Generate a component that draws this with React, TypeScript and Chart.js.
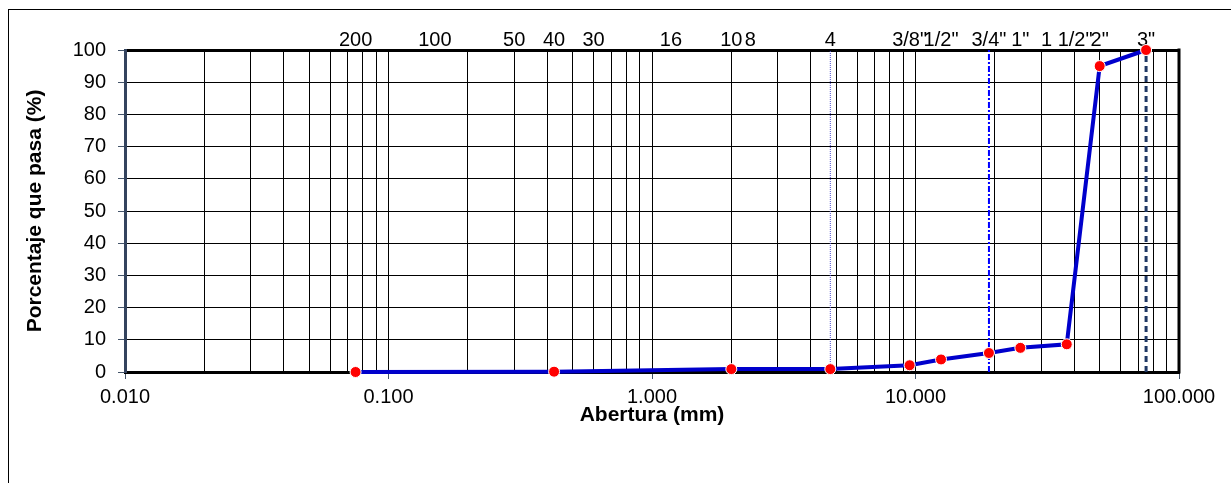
import React, { useEffect, useRef } from "react";
import { Chart, registerables } from "chart.js";

Chart.register(...registerables);

// Sieve designations shown along the top of the plot and their openings (mm)
const SIEVE_MM = [0.075, 0.15, 0.3, 0.425, 0.6, 1.18, 2.0, 2.36, 4.75, 9.5, 12.5, 19.0, 25.0, 37.5, 50.0, 75.0];
const SIEVE_LABELS = ["200", "100", "50", "40", "30", "16", "10", "8", "4", '3/8"', '1/2"', '3/4"', '1"', '1 1/2"', '2"', '3"'];

// Grading curve (opening in mm, percentage passing)
const SAMPLE_MM = [0.075, 0.425, 2.0, 4.75, 9.5, 12.5, 19.0, 25.0, 37.5, 50.0, 75.0];
const PASSING_PCT = [0.0, 0.1, 0.9, 0.9, 2.1, 3.9, 5.9, 7.5, 8.6, 95.0, 100.0];

// Reference vertical lines (mm): No. 4, 3/4", 3"
const REF_LINES_MM = [4.75, 19.0, 75.0];

// Axes
const X_DECADES = [0.01, 0.1, 1, 10, 100];
const X_MULTIPLIERS = [1, 2, 3, 4, 5, 6, 7, 8, 9];
const Y_MIN = 0;
const Y_MAX = 100;
const Y_STEP = 10;

const X_TITLE = "Abertura (mm)";
const Y_TITLE = "Porcentaje que pasa (%)";

const FONT = "'Liberation Sans', Arial, sans-serif";

const refStyles = [
  { color: "#4b4bd0", width: 1, dash: [1, 1] },
  { color: "#0000ff", width: 2, dash: [6, 2, 2, 2] },
  { color: "#1f3864", width: 3, dash: [6, 4] },
];

const framePlugin = {
  id: "frame",
  beforeDraw(chart: any) {
    const { ctx } = chart;
    ctx.save();
    ctx.fillStyle = "#ffffff";
    ctx.fillRect(0, 0, chart.width, chart.height);
    ctx.strokeStyle = "#000000";
    ctx.lineWidth = 1;
    ctx.strokeRect(8.5, 9.5, chart.width + 40, chart.height + 40);
    ctx.restore();
  },
  beforeDatasetsDraw(chart: any) {
    const { ctx, chartArea } = chart;
    ctx.save();
    ctx.strokeStyle = "#000000";
    ctx.lineWidth = 3;
    ctx.beginPath();
    ctx.moveTo(chartArea.right, chartArea.top - 1.5);
    ctx.lineTo(chartArea.right, chartArea.bottom + 1.5);
    ctx.stroke();
    ctx.restore();
  },
};

export default function App() {
  const canvasRef = useRef<HTMLCanvasElement | null>(null);

  useEffect(() => {
    if (!canvasRef.current) return;
    const decadeSet = new Set(X_DECADES);
    const gridValues: number[] = [];
    X_DECADES.forEach((d, i) => {
      if (i < X_DECADES.length - 1) X_MULTIPLIERS.forEach((m) => gridValues.push(d * m));
      else gridValues.push(d);
    });

    const refDatasets = REF_LINES_MM.map((mm, i) => ({
      type: "line" as const,
      label: "ref" + i,
      data: [
        { x: mm, y: Y_MIN },
        { x: mm, y: Y_MAX },
      ],
      borderColor: refStyles[i].color,
      borderWidth: refStyles[i].width,
      borderDash: refStyles[i].dash,
      pointRadius: 0,
      showLine: true,
      clip: false as any,
    }));

    const chart = new Chart(canvasRef.current, {
      type: "scatter",
      data: {
        datasets: [
          {
            label: "Curva granulométrica",
            data: SAMPLE_MM.map((x, i) => ({ x, y: PASSING_PCT[i] })),
            showLine: true,
            borderColor: "#0000cc",
            borderWidth: 4,
            pointRadius: 5.5,
            pointBackgroundColor: "#ff0000",
            pointBorderColor: "#ffffff",
            pointBorderWidth: 1,
            clip: false as any,
          },
          ...refDatasets,
        ] as any,
      },
      options: {
        responsive: false,
        animation: false,
        layout: { padding: { left: 0, right: 52, top: 0, bottom: 0 } },
        plugins: {
          legend: { display: false },
          tooltip: { enabled: false },
        },
        scales: {
          x: {
            type: "logarithmic",
            position: "bottom",
            min: 0.01,
            max: 100,
            afterBuildTicks: (scale: any) => {
              scale.ticks = gridValues.map((v) => ({ value: v, major: decadeSet.has(v) }));
            },
            afterFit: (scale: any) => {
              scale.height = 111;
            },
            ticks: {
              autoSkip: false,
              maxRotation: 0,
              padding: 6,
              color: "#000000",
              font: { family: FONT, size: 20 },
              callback: (value: any) => (decadeSet.has(Number(value)) ? Number(value).toFixed(3) : ""),
            },
            grid: {
              color: "#000000",
              lineWidth: 1,
              tickLength: 7,
              tickColor: (ctx: any) => (ctx.tick && decadeSet.has(ctx.tick.value) ? "#44546a" : "rgba(0,0,0,0)"),
            },
            border: { display: true, color: "#000000", width: 3 },
            title: {
              display: true,
              text: X_TITLE,
              color: "#000000",
              font: { family: FONT, size: 21, weight: "bold" },
              padding: { top: 0, bottom: 55 },
            },
          },
          xTop: {
            type: "logarithmic",
            position: "top",
            min: 0.01,
            max: 100,
            afterBuildTicks: (scale: any) => {
              scale.ticks = SIEVE_MM.map((v) => ({ value: v }));
            },
            afterFit: (scale: any) => {
              scale.height = 50;
            },
            ticks: {
              autoSkip: false,
              maxRotation: 0,
              padding: -2,
              color: "#000000",
              font: { family: FONT, size: 20 },
              callback: (_v: any, idx: number) => SIEVE_LABELS[idx],
            },
            grid: { display: false, drawOnChartArea: false, drawTicks: false },
            border: { display: true, color: "#000000", width: 3 },
          },
          y: {
            type: "linear",
            min: Y_MIN,
            max: Y_MAX,
            afterFit: (scale: any) => {
              scale.width = 125;
            },
            ticks: {
              stepSize: Y_STEP,
              padding: 12,
              color: "#000000",
              font: { family: FONT, size: 20 },
            },
            grid: {
              color: "#000000",
              lineWidth: 1,
              tickLength: 7,
              tickColor: "#44546a",
            },
            border: { display: true, color: "#34435e", width: 3 },
            title: {
              display: true,
              text: Y_TITLE,
              color: "#000000",
              font: { family: FONT, size: 21, weight: "bold" },
              padding: { top: 23, bottom: 0 },
            },
          },
        },
      } as any,
      plugins: [framePlugin],
    });

    return () => chart.destroy();
  }, []);

  return (
    <div style={{ position: "fixed", left: 0, top: 0, width: 1231, height: 483 }}>
      <canvas ref={canvasRef} width={1231} height={483} style={{ display: "block" }} />
    </div>
  );
}
